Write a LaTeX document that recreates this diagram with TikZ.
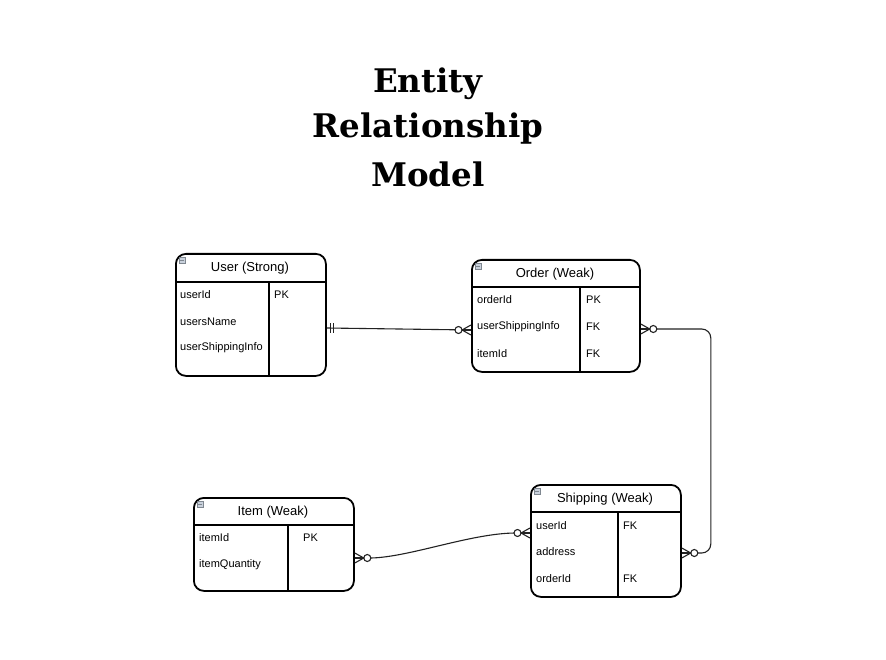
\documentclass[tikz,border=0pt]{standalone}
\usepackage{fontspec}
\setmainfont{Liberation Sans}
\newfontfamily\titlefont{DejaVu Serif}
\usetikzlibrary{calc}
\definecolor{iconfill}{HTML}{C9D1DC}
\definecolor{icondraw}{HTML}{7F8790}
\definecolor{linkcol}{HTML}{222222}
\tikzset{
  tbl/.style={draw=black, line width=1.8pt, rounded corners=10pt, anchor=north west, inner sep=0pt},
  sepline/.style={draw=black, line width=1.5pt},
  attr/.style={anchor=west, inner sep=0pt, font=\fontsize{11}{13}\selectfont},
  hdr/.style={inner sep=0pt, font=\fontsize{13}{15}\selectfont},
  titletext/.style={inner sep=0pt, font=\titlefont\bfseries\fontsize{32.5}{38}\selectfont},
  link/.style={draw=linkcol, line width=1.1pt},
  zm/.pic={
    \draw[linkcol, line width=1.1pt] (0,-5) -- (-9,0) -- (0,5);
    \draw[linkcol, line width=1.1pt] (-9,0) -- (0,0);
    \draw[linkcol, line width=1.1pt, fill=white] (-12.5,0) circle (3.5);
  },
  onebar/.pic={
    \draw[linkcol, line width=1.1pt] (4,-5) -- (4,5);
    \draw[linkcol, line width=1.1pt] (7,-5) -- (7,5);
  },
  icon/.style={draw=icondraw, fill=iconfill, line width=0.6pt, minimum size=6.5pt, inner sep=0pt}
}
\begin{document}
\begin{tikzpicture}[x=1pt, y=-1pt]
\useasboundingbox[fill=white] (0,0) rectangle (886,660);

% Title
\node[titletext] (t1) at (428,84) {Entity};
\node[titletext] (t2) at (428,129) {Relationship};
\node[titletext] (t3) at (428,174) {Model};

% User
\node[tbl, minimum width=150pt, minimum height=122pt] (user) at (175,253) {};
\draw[sepline] ($(user.north west)+(0,29)$) -- ($(user.north east)+(0,29)$);
\draw[sepline] ($(user.north west)+(94,29)$) -- ($(user.south west)+(94,0)$);
\node[icon] (ui) at (182.5,260.5) {};
\draw[icondraw, line width=0.6pt] (ui.west) ++(1.5,0) -- ++(3.5,0);
\node[hdr] (uh) at (250,268.5) {User (Strong)};
\node[attr] (u1) at (180,295) {userId};
\node[attr] (u2) at (180,322) {usersName};
\node[attr] (u3) at (180,348) {userShippingInfo};
\node[attr] (u4) at (274,295) {PK};

% Order
\node[tbl, minimum width=168pt, minimum height=112pt] (order) at (471,259) {};
\draw[sepline] ($(order.north west)+(0,28)$) -- ($(order.north east)+(0,28)$);
\draw[sepline] ($(order.north west)+(109,28)$) -- ($(order.south west)+(109,0)$);
\node[icon] (oi) at (478.5,266.5) {};
\draw[icondraw, line width=0.6pt] (oi.west) ++(1.5,0) -- ++(3.5,0);
\node[hdr] (oh) at (555,274.5) {Order (Weak)};
\node[attr] (o1) at (477,300) {orderId};
\node[attr] (o2) at (477,327) {userShippingInfo};
\node[attr] (o3) at (477,354) {itemId};
\node[attr] (o4) at (586,300) {PK};
\node[attr] (o5) at (586,327) {FK};
\node[attr] (o6) at (586,354) {FK};

% Item
\node[tbl, minimum width=160pt, minimum height=93pt] (item) at (193,497) {};
\draw[sepline] ($(item.north west)+(0,28)$) -- ($(item.north east)+(0,28)$);
\draw[sepline] ($(item.north west)+(95,28)$) -- ($(item.south west)+(95,0)$);
\node[icon] (ii) at (200.5,504.5) {};
\draw[icondraw, line width=0.6pt] (ii.west) ++(1.5,0) -- ++(3.5,0);
\node[hdr] (ih) at (273,512.5) {Item (Weak)};
\node[attr] (i1) at (199,538) {itemId};
\node[attr] (i2) at (199,565) {itemQuantity};
\node[attr] (i3) at (303,538) {PK};

% Shipping
\node[tbl, minimum width=150pt, minimum height=112pt] (ship) at (530,484) {};
\draw[sepline] ($(ship.north west)+(0,28)$) -- ($(ship.north east)+(0,28)$);
\draw[sepline] ($(ship.north west)+(88,28)$) -- ($(ship.south west)+(88,0)$);
\node[icon] (si) at (537.5,491.5) {};
\draw[icondraw, line width=0.6pt] (si.west) ++(1.5,0) -- ++(3.5,0);
\node[hdr] (sh) at (605,499.5) {Shipping (Weak)};
\node[attr] (s1) at (536,526) {userId};
\node[attr] (s2) at (536,552) {address};
\node[attr] (s3) at (536,579) {orderId};
\node[attr] (s4) at (623,526) {FK};
\node[attr] (s5) at (623,579) {FK};

% Connector end points
\coordinate (ue) at ($(user.north east)+(0,75)$);
\coordinate (ow) at ($(order.north west)+(0,71)$);
\coordinate (oe) at ($(order.north east)+(0,70)$);
\coordinate (se) at ($(ship.north east)+(0,69)$);
\coordinate (sw) at ($(ship.north west)+(0,49)$);
\coordinate (ie) at ($(item.north east)+(0,61)$);

% Connectors
\draw[link] (ue) -- (ow);
\draw[link, rounded corners=9pt] (oe) -- ++(70,0) |- (se);
\draw[link] (ie) -- ++(12,0) .. controls (405,559) and (470,533) .. ($(sw)+(-14,0)$) -- (sw);

% Ends
\pic at (ue) {onebar};
\pic[rotate=0] at (ow) {zm};
\pic[rotate=180] at (oe) {zm};
\pic[rotate=180] at (se) {zm};
\pic[rotate=0] at (sw) {zm};
\pic[rotate=180] at (ie) {zm};
\end{tikzpicture}
\end{document}
